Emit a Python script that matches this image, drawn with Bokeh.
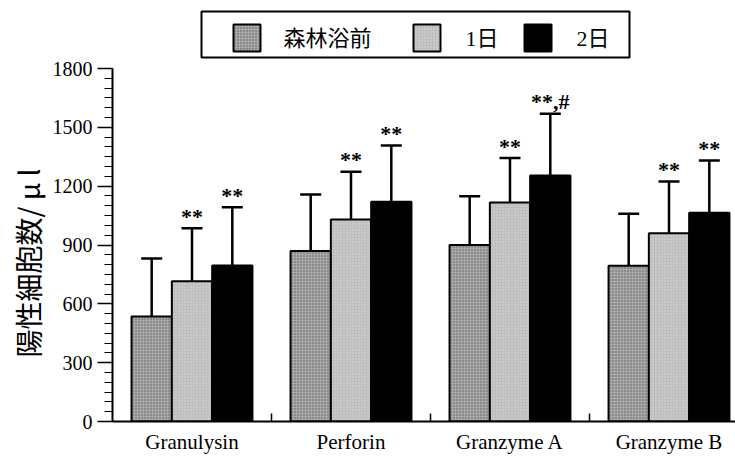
from bokeh.plotting import figure
from bokeh.models import Range1d, FixedTicker, LinearAxis, Whisker, TeeHead, ColumnDataSource, Title
from bokeh.core.properties import value
from bokeh.embed import file_html
from bokeh.resources import INLINE

# ---------------- data ----------------
categories = ["Granulysin", "Perforin", "Granzyme A", "Granzyme B"]
series = ["森林浴前", "1日", "2日"]
before = [535, 870, 900, 794]
day1 = [715, 1030, 1117, 960]
day2 = [795, 1120, 1254, 1064]
sd_before = [296, 288, 248, 265]
sd_day1 = [271, 243, 226, 264]
sd_day2 = [298, 287, 315, 267]
sig_before = ["", "", "", ""]
sig_day1 = ["**", "**", "**", "**"]
sig_day2 = ["**", "**", "**,#", "**"]
y_ticks = [0, 300, 600, 900, 1200, 1500, 1800]
y_axis_title = "陽性細胞数/ μ l"

# ---------------- layout ----------------
W, H = 735, 466
LEFT, BOTTOM = 112, 45
frame_w = W - LEFT
frame_h = H - BOTTOM
px_per_y = 353 / 1800
y_top = frame_h / px_per_y
group_px = 159
x_end = frame_w / group_px
bw = 0.2535

def dx(px):
    return (px - LEFT) / group_px

def dy(py):
    return (frame_h - py) / px_per_y

p = figure(width=W, height=H, output_backend="svg", toolbar_location=None,
           x_range=Range1d(0, x_end), y_range=Range1d(0, y_top),
           min_border_left=LEFT, min_border_right=0, min_border_top=0,
           min_border_bottom=BOTTOM, x_axis_location=None, y_axis_location=None)
p.xgrid.visible = False
p.ygrid.visible = False
p.outline_line_color = None
p.background_fill_color = "white"

styles = [
    dict(fill_color="#8a8a8a", hatch_pattern="cross", hatch_color="#b4b4b4", hatch_scale=3, hatch_weight=1, hatch_alpha=0.7),
    dict(fill_color="#bdbdbd", hatch_pattern="dot", hatch_color="#e6e6e6", hatch_scale=3, hatch_weight=1, hatch_alpha=0.8),
    dict(fill_color="black"),
]

vals = [before, day1, day2]
sds = [sd_before, sd_day1, sd_day2]
sigs = [sig_before, sig_day1, sig_day2]
for j in range(3):
    xs = [i + 0.5 + (j - 1) * bw for i in range(len(categories))]
    src = ColumnDataSource(dict(x=xs, top=vals[j],
                                upper=[v + s for v, s in zip(vals[j], sds[j])],
                                sig=sigs[j]))
    p.vbar(x="x", top="top", bottom=0, width=bw, source=src,
           line_color="black", line_width=2, **styles[j])
    w = Whisker(base="x", lower="top", upper="upper", source=src,
                line_color="black", line_width=2.5, lower_head=None,
                upper_head=TeeHead(size=21, line_width=2.5, line_color="black"))
    p.add_layout(w)
    p.text(x="x", y="upper", text="sig", source=src, text_align="center",
           text_baseline="alphabetic", y_offset=-12,
           text_font=value("Liberation Serif"), text_font_size="22px",
           text_font_style="bold", text_color="black")

# ---------------- legend (drawn by hand) ----------------
p.quad(left=dx(201), right=dx(629), top=dy(11), bottom=dy(57),
       fill_color="white", line_color="black", line_width=2)
sw_left = [233, 413, 524]
lab_left = [283, 465, 576]
for j in range(3):
    p.quad(left=dx(sw_left[j]), right=dx(sw_left[j] + 27), top=dy(24), bottom=dy(51),
           line_color="black", line_width=2, **styles[j])
    p.text(x=[dx(lab_left[j])], y=[dy(37.5)], text=[series[j]], text_align="left",
           text_baseline="middle", text_font=value("Liberation Serif, Noto Sans CJK JP"),
           text_font_size="22px", text_color="black")

# ---------------- axes ----------------
yaxis = LinearAxis(bounds=(0, 1800),
                   ticker=FixedTicker(ticks=y_ticks, minor_ticks=list(range(0, 1801, 50))))
yaxis.axis_line_width = 2
yaxis.axis_line_color = "black"
yaxis.major_tick_out = 15
yaxis.major_tick_in = 0
yaxis.minor_tick_out = 8
yaxis.minor_tick_in = 0
yaxis.major_tick_line_width = 1.5
yaxis.minor_tick_line_width = 1
yaxis.major_tick_line_color = "black"
yaxis.minor_tick_line_color = "black"
yaxis.major_label_text_font = "Liberation Serif"
yaxis.major_label_text_font_size = "20px"
yaxis.major_label_text_color = "black"
yaxis.major_label_standoff = 5
p.add_layout(yaxis, "left")

# y-axis title as a side title, started near the bottom of the axis
ytitle = Title(text=y_axis_title, align="left", offset=64, standoff=4,
               text_font="Noto Sans CJK JP", text_font_size="28px",
               text_font_style="normal", text_color="black")
p.add_layout(ytitle, "left")

xaxis = LinearAxis(ticker=FixedTicker(ticks=[i + 0.5 for i in range(len(categories))],
                                      minor_ticks=[1, 2, 3]))
xaxis.major_label_overrides = {i + 0.5: c for i, c in enumerate(categories)}
xaxis.axis_line_width = 2
xaxis.axis_line_color = "black"
xaxis.major_tick_in = 0
xaxis.major_tick_out = 0
xaxis.minor_tick_in = 8
xaxis.minor_tick_out = 0
xaxis.minor_tick_line_width = 1.5
xaxis.minor_tick_line_color = "black"
xaxis.major_label_text_font = "Liberation Serif"
xaxis.major_label_text_font_size = "21px"
xaxis.major_label_text_color = "black"
xaxis.major_label_standoff = 8
p.add_layout(xaxis, "below")

open("out.html", "w").write(file_html(p, INLINE))
